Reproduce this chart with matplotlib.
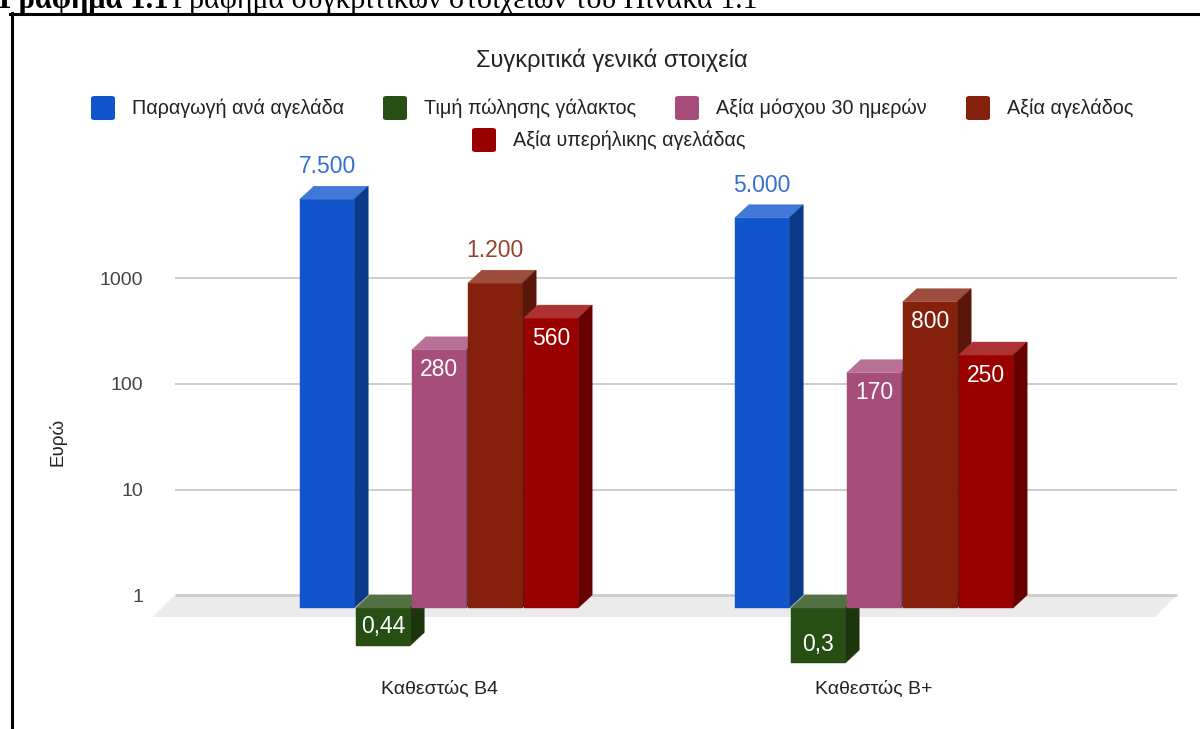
import numpy as np
import matplotlib
matplotlib.use('Agg')
import matplotlib.pyplot as plt
from matplotlib.patches import Polygon, FancyBboxPatch
from matplotlib.lines import Line2D
from matplotlib.ticker import NullLocator
from matplotlib.colors import to_rgb

plt.rcParams['font.family'] = ['Liberation Sans', 'DejaVu Sans']

# data
categories = ['Καθεστώς B4', 'Καθεστώς B+']
series_names = ['Παραγωγή ανά αγελάδα', 'Τιμή πώλησης γάλακτος',
                'Αξία μόσχου 30 ημερών', 'Αξία αγελάδος',
                'Αξία υπερήλικης αγελάδας']
production = [7500, 5000]
milk_price = [0.44, 0.3]
calf_value = [280, 170]
cow_value = [1200, 800]
old_cow_value = [560, 250]
series_values = [production, milk_price, calf_value, cow_value, old_cow_value]
colors = ['#1155cc', '#274e13', '#a64d79', '#85200c', '#990000']
ytick_values = [1, 10, 100, 1000]
ytick_labels = ['1', '10', '100', '1000']

W, H = 1200, 729


def fx(px):
    return px / W


def fy(py):
    return 1 - py / H


def lighten(c, f=0.2):
    r = np.array(to_rgb(c))
    return tuple(r + (1 - r) * f)


def darken(c, f=0.68):
    return tuple(np.array(to_rgb(c)) * f)


def fmt(v):
    if v >= 1000:
        return f'{v:,.0f}'.replace(',', '.')
    if v < 1:
        return str(v).replace('.', ',')
    return str(int(v))


fig = plt.figure(figsize=(12, 7.29), dpi=100)
ax = fig.add_axes([fx(153), fy(671.3), fx(1002), (671.3 - 186) / H])
ax.set_yscale('log')
ax.set_ylim(10 ** -0.6, 10 ** 4)
ax.set_xlim(-0.6575, 1.646)
for s in ax.spines.values():
    s.set_visible(False)

# 3d depth (front plane -> back plane)
px_unit = 435.0
px_dec = 105.5
dx = 14 / px_unit
k = 10 ** (13 / px_dec)
fdx = 22 / px_unit
x0, x1 = ax.get_xlim()

# floor
f_front = 10 ** (-9 / px_dec)
ax.add_patch(Polygon([(x0, f_front), (x1, f_front), (x1 + fdx, k), (x0 + fdx, k)],
                     closed=True, facecolor='#ebebeb', edgecolor='none',
                     zorder=1, clip_on=False))

# gridlines on the back wall
for g in ytick_values:
    ax.plot([x0 + fdx, x1 + fdx], [g * k, g * k], color='#cccccc',
            lw=2 if g == 1 else 1.4, zorder=1.5, clip_on=False,
            solid_capstyle='butt')

w = 0.125
pitch = 0.1287
xc = np.arange(len(categories))
for i, vals in enumerate(series_values):
    vals = np.array(vals, dtype=float)
    xs = xc + (i - 2) * pitch
    c = colors[i]
    ax.bar(xs, vals - 1, bottom=1, width=w, color=c, edgecolor=c, lw=0.3,
           zorder=3, clip_on=False)
    for x, v in zip(xs, vals):
        top = max(v, 1)
        bot = min(v, 1)
        ax.add_patch(Polygon([(x - w / 2, top), (x + w / 2, top),
                              (x + w / 2 + dx, top * k), (x - w / 2 + dx, top * k)],
                             closed=True, facecolor=lighten(c), edgecolor=lighten(c),
                             lw=0.3, zorder=3, clip_on=False))
        ax.add_patch(Polygon([(x + w / 2, bot), (x + w / 2, top),
                              (x + w / 2 + dx, top * k), (x + w / 2 + dx, bot * k)],
                             closed=True, facecolor=darken(c), edgecolor=darken(c),
                             lw=0.3, zorder=3, clip_on=False))
        txt = fmt(v)
        if v >= 1000:
            ax.annotate(txt, (x, v * k), xytext=(0, 8 * 72 / 100),
                        textcoords='offset points', ha='center', va='bottom',
                        color=lighten(c, 0.15), fontsize=16.5, zorder=5,
                        annotation_clip=False)
        else:
            off = -20 if v > 1 else 19
            ax.annotate(txt, (x, v), xytext=(0, off * 72 / 100),
                        textcoords='offset points', ha='center', va='center',
                        color='white', fontsize=16.5, zorder=5,
                        annotation_clip=False)

ax.set_yticks([g * k for g in ytick_values])
ax.set_yticklabels(ytick_labels)
ax.yaxis.set_minor_locator(NullLocator())
ax.tick_params(axis='y', length=0, pad=7.2, labelsize=14, labelcolor='#444444')
ax.set_xticks(xc)
ax.set_xticklabels(categories)
ax.tick_params(axis='x', length=0, pad=7, labelsize=14, labelcolor='#222222')

# title and axis label
fig.text(fx(612), fy(60), 'Συγκριτικά γενικά στοιχεία', ha='center', va='center',
         fontsize=17, color='#222222')
fig.text(fx(58), fy(442), 'Ευρώ', rotation=90, ha='center', va='center',
         fontsize=13.5, color='#222222')

# legend
leg_pos = [(91, 108), (383, 108), (675, 108), (966, 108), (472, 140)]
for (lx, ly), name, c in zip(leg_pos, series_names, colors):
    fig.add_artist(FancyBboxPatch((fx(lx), fy(ly + 12)), fx(24), 24 / H,
                                  boxstyle='round,pad=0,rounding_size=0.003',
                                  transform=fig.transFigure, facecolor=c,
                                  edgecolor='none'))
    fig.text(fx(lx + 41), fy(ly), name, ha='left', va='center', fontsize=14.2,
             color='#222222')

# document caption (cut off at the top, as in the source page) and frame
fig.text(fx(-1), fy(8), 'Γράφημα 1.1', fontfamily='Liberation Serif',
         weight='bold', fontsize=22, va='baseline', ha='left', color='black')
fig.text(fx(172), fy(8), 'Γράφημα συγκριτικών στοιχείων του Πίνακα 1.1',
         fontfamily='Liberation Serif', fontsize=21.5, va='baseline', ha='left',
         color='black')
fig.add_artist(Line2D([fx(10), 1.0], [fy(13.5), fy(13.5)], color='black', lw=2.2,
                      transform=fig.transFigure))
fig.add_artist(Line2D([fx(11.5), fx(11.5)], [fy(12.5), 0.0], color='black', lw=2.2,
                      transform=fig.transFigure))

fig.savefig('out.png', dpi=100)
